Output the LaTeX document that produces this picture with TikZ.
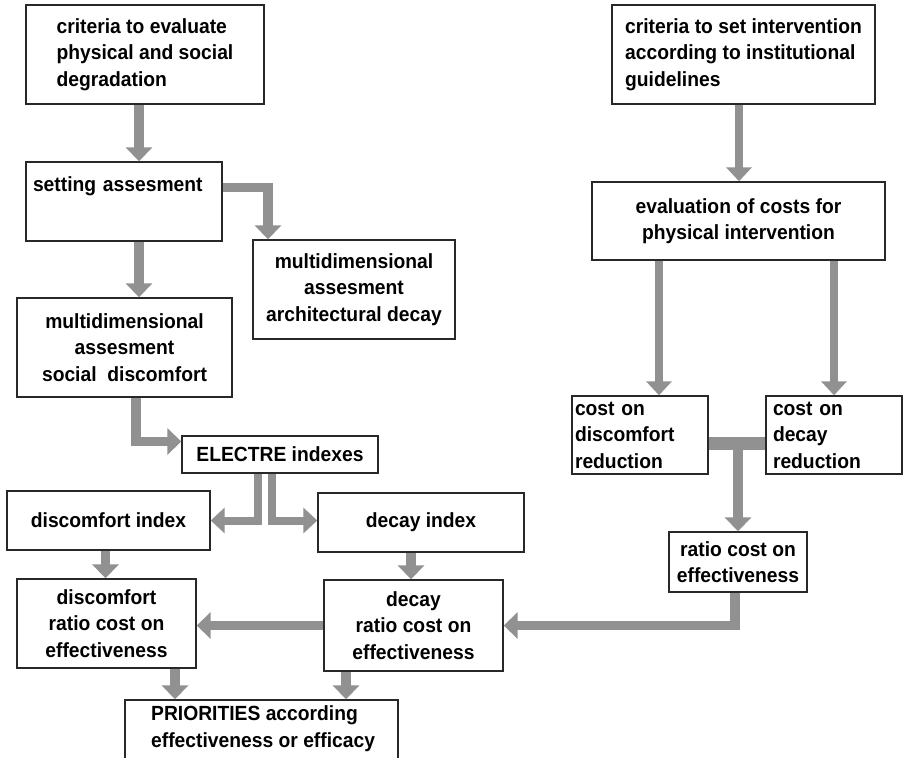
\documentclass[tikz,border=0pt]{standalone}
\usepackage{fontspec}
\setmainfont{Liberation Sans}[FakeStretch=0.94]
\usetikzlibrary{arrows.meta}
\definecolor{arr}{RGB}{145,145,145}
\definecolor{frame}{RGB}{40,40,40}
\tikzset{
  box/.style={draw=frame, line width=1.4pt, inner sep=0pt, font=\bfseries\fontsize{20.5}{26.5}\selectfont, align=center},
  txt/.style={inner sep=0pt, font=\bfseries\fontsize{20.5}{26.5}\selectfont},
  fat/.style={draw=arr, line width=9.5pt, line join=miter, -{Triangle[width=26pt,length=14pt]}},
  thin/.style={draw=arr, line width=8pt, line join=miter, -{Triangle[width=25pt,length=14pt]}},
  tbar/.style={draw=arr, line width=13pt},
}
\begin{document}
\begin{tikzpicture}[x=1pt,y=-1pt]
\clip (0,0) rectangle (903,758);
\fill[white] (0,0) rectangle (903,758);
% left column
\node[box, minimum width=238pt, minimum height=99pt, align=left] (c1) at (145,54.5)
  {criteria to evaluate\\physical and social\\degradation};
\node[box, minimum width=196pt, minimum height=79pt, text width=182pt, align=left] (set) at (124,201.5)
  {setting assesment\\\strut};
\node[box, minimum width=202pt, minimum height=99pt] (arch) at (354,289.5)
  {multidimensional\\assesment\\architectural decay};
\node[box, minimum width=215pt, minimum height=99pt] (soc) at (124.5,347.5)
  {multidimensional\\assesment\\social~ discomfort};
\node[box, minimum width=196pt, minimum height=37pt] (el) at (280,454.5) {ELECTRE indexes};
\node[box, minimum width=203pt, minimum height=59pt] (di) at (108.5,520.5) {discomfort index};
\node[box, minimum width=206pt, minimum height=59pt] (dy) at (421,522.5) {decay index};
\node[box, minimum width=179pt, minimum height=89pt] (dr) at (106.5,623.5)
  {discomfort\\ratio cost on\\effectiveness};
\node[box, minimum width=179pt, minimum height=91pt] (yr) at (413.5,625.5)
  {decay\\ratio cost on\\effectiveness};
\node[box, minimum width=273pt, minimum height=70pt] (pri) at (261.5,735) {};
\node[txt, anchor=west, align=left] (prit) at (151,728.5)
  {PRIORITIES according\\effectiveness or efficacy};
% right column
\node[box, minimum width=263pt, minimum height=99pt, align=left] (c2) at (743.5,54.5)
  {criteria to set intervention\\according to institutional\\guidelines};
\node[box, minimum width=293pt, minimum height=78pt] (ev) at (738.5,221)
  {evaluation of costs for\\physical intervention};
\node[box, minimum width=136pt, minimum height=78pt, text width=130pt, align=left] (cd) at (640,435)
  {cost on\\discomfort\\reduction};
\node[box, minimum width=136pt, minimum height=78pt, text width=122pt, align=left] (ck) at (834,435)
  {cost on\\decay\\reduction};
\node[box, minimum width=138pt, minimum height=60pt] (rc) at (738,562)
  {ratio cost on\\effectiveness};
% connectors, left
\draw[fat] ([xshift=-6pt]c1.south) -- ([xshift=-6pt]c1.south |- set.north);
\draw[fat] ([yshift=14pt]set.east) -| ([xshift=-86pt]arch.north);
\draw[fat] ([xshift=15pt]set.south) -- ([xshift=15pt]set.south |- soc.north);
\draw[fat] ([xshift=11.5pt]soc.south) |- ([yshift=13pt]el.west);
\draw[thin] ([xshift=-22pt]el.south) |- (di.east);
\draw[thin] ([xshift=-8pt]el.south) |- ([yshift=2pt]dy.west);
\draw[fat] ([xshift=-3pt]di.south) -- ([xshift=-3pt]di.south |- dr.north);
\draw[fat] ([xshift=-10pt]dy.south) -- ([xshift=-10pt]dy.south |- yr.north);
\draw[fat] (yr.west) -- (yr.west -| dr.east);
\draw[fat] ([xshift=68.5pt]dr.south) -- ([xshift=68.5pt]dr.south |- pri.north);
\draw[fat] ([xshift=-67.5pt]yr.south) -- ([xshift=-67.5pt]yr.south |- pri.north);
% connectors, right
\draw[thin] ([xshift=-4.5pt]c2.south) -- ([xshift=-4.5pt]c2.south |- ev.north);
\draw[thin] ([xshift=-79.5pt]ev.south) -- ([xshift=-79.5pt]ev.south |- cd.north);
\draw[thin] ([xshift=95.5pt]ev.south) -- ([xshift=95.5pt]ev.south |- ck.north);
\draw[tbar] ([yshift=-8pt]cd.east) -- ([yshift=-8pt]cd.east -| ck.west);
\coordinate (tj) at ([yshift=-8pt]cd.east -| rc.north);
\draw[fat] (tj) -- (rc.north);
\draw[fat] ([xshift=-3pt]rc.south) |- (yr.east);
\end{tikzpicture}
\end{document}
